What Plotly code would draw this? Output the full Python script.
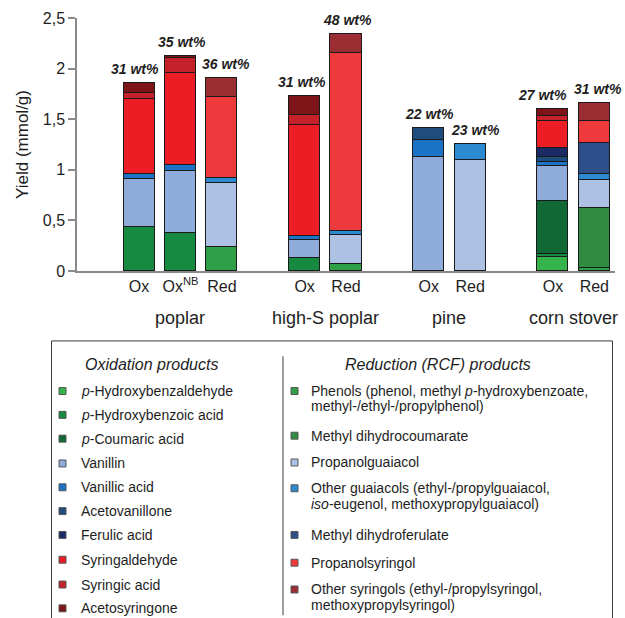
import plotly.graph_objects as go

# ---- data -------------------------------------------------------------
# bar slots (numeric positions leave a gap between feedstock groups)
bar_pos = [0, 1, 2, 4, 5, 7, 8, 10, 11]
bar_labels = ["Ox", "Ox<sup>NB</sup>", "Red", "Ox", "Red", "Ox", "Red", "Ox", "Red"]
bar_kind = ["ox", "ox", "red", "ox", "red", "ox", "red", "ox", "red"]
wt_labels = ["31 wt%", "35 wt%", "36 wt%", "31 wt%", "48 wt%",
             "22 wt%", "23 wt%", "27 wt%", "31 wt%"]

groups = ["poplar", "high-S poplar", "pine", "corn stover"]
group_pos = [1, 4.5, 7.5, 10.5]

# oxidation products, values for the Ox bars in order:
# poplar Ox, poplar Ox(NB), high-S poplar Ox, pine Ox, corn stover Ox  (mmol/g)
ox_names = ["<i>p</i>-Hydroxybenzaldehyde", "<i>p</i>-Hydroxybenzoic acid",
            "<i>p</i>-Coumaric acid", "Vanillin", "Vanillic acid",
            "Acetovanillone", "Ferulic acid", "Syringaldehyde",
            "Syringic acid", "Acetosyringone"]
ox_colors = ["#35b44c", "#158a40", "#106835", "#8fabd9", "#1c72c4",
             "#1f4d7d", "#1c2a66", "#ec1d25", "#c4212b", "#7d1418"]
p_hydroxybenzaldehyde = [0.00, 0.00, 0.00, 0.00, 0.137]
p_hydroxybenzoic_acid = [0.43, 0.38, 0.13, 0.00, 0.034]
p_coumaric_acid       = [0.00, 0.00, 0.00, 0.00, 0.523]
vanillin              = [0.48, 0.61, 0.18, 1.13, 0.343]
vanillic_acid         = [0.05, 0.06, 0.035, 0.165, 0.040]
acetovanillone        = [0.00, 0.00, 0.00, 0.12, 0.050]
ferulic_acid          = [0.00, 0.00, 0.00, 0.00, 0.090]
syringaldehyde        = [0.74, 0.91, 1.10, 0.00, 0.268]
syringic_acid         = [0.06, 0.14, 0.095, 0.00, 0.049]
acetosyringone        = [0.10, 0.02, 0.19, 0.00, 0.071]
ox_values = [p_hydroxybenzaldehyde, p_hydroxybenzoic_acid, p_coumaric_acid,
             vanillin, vanillic_acid, acetovanillone, ferulic_acid,
             syringaldehyde, syringic_acid, acetosyringone]

# reduction (RCF) products, values for the Red bars in order:
# poplar Red, high-S poplar Red, pine Red, corn stover Red  (mmol/g)
red_names = ["Phenols (phenol, methyl <i>p</i>-hydroxybenzoate,<br>methyl-/ethyl-/propylphenol)",
             "Methyl dihydrocoumarate",
             "Propanolguaiacol",
             "Other guaiacols (ethyl-/propylguaiacol,<br><i>iso</i>-eugenol, methoxypropylguaiacol)",
             "Methyl dihydroferulate",
             "Propanolsyringol",
             "Other syringols (ethyl-/propylsyringol,<br>methoxypropylsyringol)"]
red_colors = ["#30a048", "#2f8c41", "#adc1e4", "#2c8bd0", "#2d4f8a",
              "#ef3a3d", "#9a2e32"]
phenols                 = [0.24, 0.066, 0.00, 0.025]
methyl_dihydrocoumarate = [0.00, 0.00, 0.00, 0.597]
propanolguaiacol        = [0.625, 0.29, 1.10, 0.275]
other_guaiacols         = [0.05, 0.042, 0.157, 0.06]
methyl_dihydroferulate  = [0.00, 0.00, 0.00, 0.31]
propanolsyringol        = [0.80, 1.76, 0.00, 0.22]
other_syringols         = [0.19, 0.183, 0.00, 0.17]
red_values = [phenols, methyl_dihydrocoumarate, propanolguaiacol,
              other_guaiacols, methyl_dihydroferulate, propanolsyringol,
              other_syringols]

# ---- layout geometry (pixels) -----------------------------------------
W, H = 625, 618
ML, MR, MT, MB = 77, 10, 16, 347
PW, PH = W - ML - MR, H - MT - MB
FONT = "Liberation Sans, Arial, sans-serif"
TXT = "#1e1e1e"


def px_x(px):
    return (px - ML) / PW


def px_y(py):
    return (MT + PH - py) / PH


ox_x = [p for p, k in zip(bar_pos, bar_kind) if k == "ox"]
red_x = [p for p, k in zip(bar_pos, bar_kind) if k == "red"]

fig = go.Figure()


def add_stack(xs, names, colors, values):
    for name, color, vals in zip(names, colors, values):
        fig.add_trace(go.Bar(
            x=xs, y=[v if v > 0 else None for v in vals],
            name=name, width=0.75,
            marker=dict(color=color, line=dict(color="#1a1a1a", width=1)),
            showlegend=False, hoverinfo="name+y",
        ))


add_stack(ox_x, ox_names, ox_colors, ox_values)
add_stack(red_x, red_names, red_colors, red_values)

# bar totals for placing the wt% labels
totals = {}
for xs, values in ((ox_x, ox_values), (red_x, red_values)):
    for i, x in enumerate(xs):
        totals[x] = sum(v[i] for v in values)

wt_xshift = [-4, 2, 4, -3, 1, 1, 5, -10, 4]
annotations = []
for x, lab, dx in zip(bar_pos, wt_labels, wt_xshift):
    annotations.append(dict(
        x=x, y=totals[x], xref="x", yref="y", text=f"<b><i>{lab}</i></b>",
        showarrow=False, xanchor="center", yanchor="bottom", yshift=4, xshift=dx,
        font=dict(family=FONT, size=14, color=TXT)))

for g, gx in zip(groups, group_pos):
    annotations.append(dict(
        x=gx, y=px_y(318), xref="x", yref="paper", text=g, showarrow=False,
        xanchor="center", yanchor="middle",
        font=dict(family=FONT, size=18, color=TXT)))

# ---- legend box drawn below the plot -----------------------------------
shapes = [
    dict(type="rect", xref="paper", yref="paper",
         x0=px_x(51.5), x1=px_x(612.5), y0=px_y(630), y1=px_y(341.5),
         line=dict(color="#3a3a3a", width=1), fillcolor="rgba(0,0,0,0)"),
    dict(type="line", xref="paper", yref="paper",
         x0=px_x(283), x1=px_x(283), y0=px_y(357), y1=px_y(618),
         line=dict(color="#3a3a3a", width=1)),
]

annotations.append(dict(
    x=px_x(151), y=px_y(365), xref="paper", yref="paper",
    text="<i>Oxidation products</i>", showarrow=False,
    xanchor="center", yanchor="middle",
    font=dict(family=FONT, size=16, color=TXT)))
annotations.append(dict(
    x=px_x(438), y=px_y(365), xref="paper", yref="paper",
    text="<i>Reduction (RCF) products</i>", showarrow=False,
    xanchor="center", yanchor="middle",
    font=dict(family=FONT, size=16, color=TXT)))


def legend_item(sq_x, txt_x, y, color, name):
    shapes.append(dict(
        type="rect", xref="paper", yref="paper",
        x0=px_x(sq_x - 3.5), x1=px_x(sq_x + 3.5),
        y0=px_y(y + 3.5), y1=px_y(y - 3.5),
        fillcolor=color, line=dict(color="#555555", width=1)))
    for j, line in enumerate(name.split("<br>")):
        annotations.append(dict(
            x=px_x(txt_x), y=px_y(y + 15.5 * j), xref="paper", yref="paper",
            text=line, showarrow=False, xanchor="left", yanchor="middle",
            font=dict(family=FONT, size=14, color=TXT)))


ox_rows_y = [392, 416, 440, 465, 489, 513, 537, 562, 587, 611]
for name, color, y in zip(ox_names, ox_colors, ox_rows_y):
    legend_item(62.5, 79, y, color, name)

red_rows_y = [392, 437, 464, 490, 537, 565, 592]
for name, color, y in zip(red_names, red_colors, red_rows_y):
    legend_item(294.5, 309, y, color, name)

fig.update_layout(
    width=W, height=H,
    margin=dict(l=ML, r=MR, t=MT, b=MB),
    paper_bgcolor="white", plot_bgcolor="white",
    barmode="stack", bargap=0,
    separators=",.",
    font=dict(family=FONT, color=TXT),
    showlegend=False,
    annotations=annotations, shapes=shapes,
    xaxis=dict(
        range=[-1.5, 11.5], tickvals=bar_pos, ticktext=bar_labels,
        showline=True, linecolor="#8a8a8a", linewidth=1.5,
        ticks="", showgrid=False, zeroline=False,
        tickfont=dict(family=FONT, size=16, color=TXT)),
    yaxis=dict(
        range=[0, 2.5], dtick=0.5, tick0=0,
        showline=True, linecolor="#8a8a8a", linewidth=1.5,
        ticks="outside", ticklen=7, tickcolor="#8a8a8a", tickwidth=1.5,
        showgrid=False, zeroline=False,
        tickfont=dict(family=FONT, size=16, color=TXT),
        title=dict(text="Yield (mmol/g)", standoff=10,
                   font=dict(family=FONT, size=17, color=TXT))),
)

fig.write_html("out.html")
